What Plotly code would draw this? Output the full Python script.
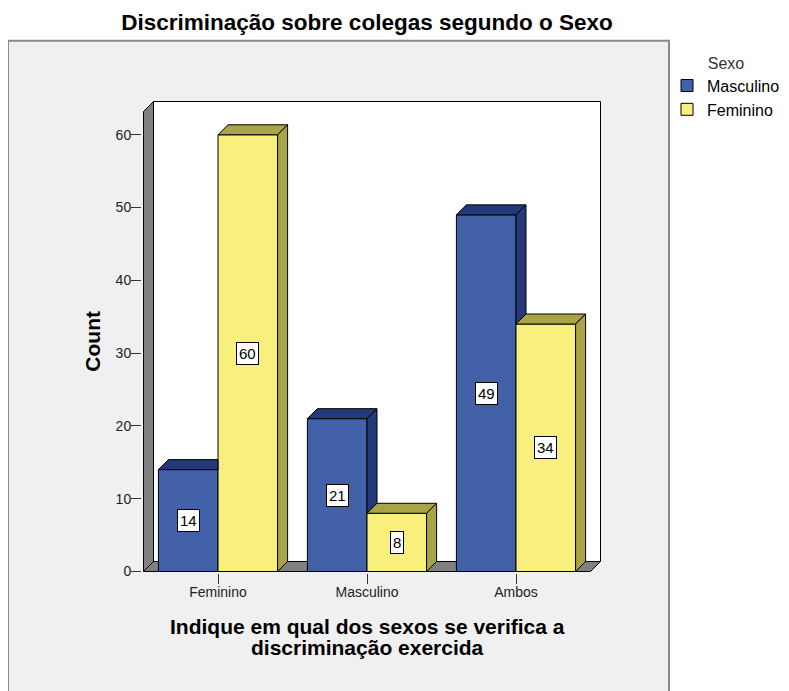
import plotly.graph_objects as go

# data
categories = ['Feminino', 'Masculino', 'Ambos']
series_names = ['Masculino', 'Feminino']
masculino = [14, 21, 49]
feminino = [60, 8, 34]
y_ticks = [0, 10, 20, 30, 40, 50, 60]

front_colors = ['#4361a8', '#f8ef7c']
dark_colors = ['#25397a', '#a9a448']
wall_color = '#808080'
panel_color = '#f0f0f0'
FONT = 'Arial, Liberation Sans, sans-serif'

# geometry in reference pixels; the page body adds an 8px margin
W, H = 789, 691
OFF = 8
FW, FH = W - OFF, H - OFF
PX_X = 149.0      # px per category
PX_Y = 7.283      # px per count
DEPTH = 10.0      # depth of the 3d effect in px
ddx = DEPTH / PX_X
ddy = DEPTH / PX_Y
ymax = 63.2
pad = 1.5
bar_w = 0.4

x_lo = -0.5 - pad / PX_X
x_hi = 2.5 + ddx + pad / PX_X
y_lo = -pad / PX_Y
y_hi = ymax + ddy + pad / PX_Y

L = 143.5 - pad
B = 572 + pad
plot_w = (x_hi - x_lo) * PX_X
plot_h = (y_hi - y_lo) * PX_Y
margin_l = L - OFF
margin_r = W - L - plot_w
margin_b = H - B
margin_t = FH - margin_b - plot_h


def px_to_paper_x(px):
    return (px - L) / plot_w


def px_to_paper_y(py):
    return (B - py) / plot_h


xs = list(range(len(categories)))
values = [masculino, feminino]
offsets = [-bar_w, 0.0]

fig = go.Figure()

# front faces
for s, name in enumerate(series_names):
    fig.add_trace(go.Bar(
        x=xs,
        y=values[s],
        name=name,
        width=bar_w,
        offset=offsets[s],
        marker=dict(color=front_colors[s], line=dict(color='black', width=1)),
        hovertemplate='%{y}<extra>' + name + '</extra>',
    ))


def face(pts, color):
    fig.add_trace(go.Scatter(
        x=[p[0] for p in pts] + [pts[0][0]],
        y=[p[1] for p in pts] + [pts[0][1]],
        mode='lines',
        fill='toself',
        fillcolor=color,
        line=dict(color='black', width=1),
        hoverinfo='skip',
        showlegend=False,
    ))


# top and side faces, clipped where the neighbour bar hides them
for i in xs:
    mv, fv = masculino[i], feminino[i]
    x0 = i - bar_w
    x1 = i
    if fv >= mv:
        face([(x0, mv), (x0 + ddx, mv + ddy), (x1, mv + ddy), (x1, mv)], dark_colors[0])
    else:
        face([(x0, mv), (x0 + ddx, mv + ddy), (x1 + ddx, mv + ddy), (x1, mv)], dark_colors[0])
        face([(x1, fv), (x1, mv), (x1 + ddx, mv + ddy), (x1 + ddx, fv + ddy)], dark_colors[0])
    x0 = i
    x1 = i + bar_w
    face([(x0, fv), (x0 + ddx, fv + ddy), (x1 + ddx, fv + ddy), (x1, fv)], dark_colors[1])
    face([(x1, 0), (x1, fv), (x1 + ddx, fv + ddy), (x1 + ddx, ddy)], dark_colors[1])

# value labels
for s in range(2):
    for i in xs:
        v = values[s][i]
        fig.add_annotation(
            x=i + offsets[s] + bar_w / 2, y=v / 2, text=str(v),
            showarrow=False, bgcolor='white', bordercolor='black',
            borderwidth=1, borderpad=2, xanchor='center', yanchor='middle',
            font=dict(family=FONT, size=15, color='black'),
        )

# outer grey panel, back wall, left wall, floor
shapes = [
    dict(type='rect', xref='paper', yref='paper', layer='below',
         x0=px_to_paper_x(8), x1=px_to_paper_x(669),
         y0=px_to_paper_y(720), y1=px_to_paper_y(41),
         fillcolor=panel_color, line=dict(color='#8a8a8a', width=2)),
    dict(type='rect', xref='x', yref='y', layer='below',
         x0=-0.5 + ddx, x1=2.5 + ddx, y0=ddy, y1=ymax + ddy,
         fillcolor='white', line=dict(color='black', width=1)),
    dict(type='path', xref='x', yref='y', layer='below',
         path=f'M {-0.5},0 L {-0.5 + ddx},{ddy} L {-0.5 + ddx},{ymax + ddy} L {-0.5},{ymax} Z',
         fillcolor=wall_color, line=dict(color='black', width=1)),
    dict(type='path', xref='x', yref='y', layer='below',
         path=f'M {-0.5},0 L {2.5},0 L {2.5 + ddx},{ddy} L {-0.5 + ddx},{ddy} Z',
         fillcolor=wall_color, line=dict(color='black', width=1)),
]

# axis titles
fig.add_annotation(
    xref='paper', yref='paper', x=px_to_paper_x(93), y=px_to_paper_y(342),
    xanchor='center', yanchor='middle',
    text='<b>Count</b>', textangle=-90, showarrow=False,
    font=dict(family=FONT, size=21, color='black'),
)
for line, ypx in [('Indique em qual dos sexos se verifica a', 627),
                  ('discriminação exercida', 648)]:
    fig.add_annotation(
        xref='paper', yref='paper', x=px_to_paper_x(367), y=px_to_paper_y(ypx),
        xanchor='center', yanchor='middle',
        text='<b>' + line + '</b>', showarrow=False,
        font=dict(family=FONT, size=21, color='black'),
    )

fig.update_layout(
    width=FW, height=FH,
    margin=dict(l=margin_l, r=margin_r, t=margin_t, b=margin_b, pad=0, autoexpand=False),
    paper_bgcolor='white',
    plot_bgcolor='rgba(0,0,0,0)',
    barmode='overlay',
    shapes=shapes,
    title=dict(
        text='<b>Discriminação sobre colegas segundo o Sexo</b>',
        xref='container', yref='container',
        x=(367 - OFF) / FW, y=1 - (22 - OFF) / FH, xanchor='center', yanchor='middle',
        font=dict(family=FONT, size=22.5, color='black'),
    ),
    legend=dict(
        title=dict(text='Sexo', side='top center', font=dict(family=FONT, size=16, color='#333')),
        x=px_to_paper_x(667), y=px_to_paper_y(48), xanchor='left', yanchor='top',
        font=dict(family=FONT, size=16, color='black'),
        bgcolor='rgba(0,0,0,0)', tracegroupgap=0, itemwidth=30,
    ),
    font=dict(family=FONT, color='black'),
)

fig.update_xaxes(
    range=[x_lo, x_hi], tickvals=xs, ticktext=categories,
    ticks='outside', ticklen=10, tickcolor='#333', tickwidth=1,
    ticklabelstandoff=-4,
    showgrid=False, zeroline=False, showline=False,
    tickfont=dict(family=FONT, size=14, color='#222'),
)
fig.update_yaxes(
    range=[y_lo, y_hi], tickvals=y_ticks,
    ticks='outside', ticklen=10, tickcolor='#333', tickwidth=1,
    ticklabelstandoff=-3,
    showgrid=False, zeroline=False, showline=False,
    tickfont=dict(family=FONT, size=14, color='#222'),
)

fig.write_html('out.html')
